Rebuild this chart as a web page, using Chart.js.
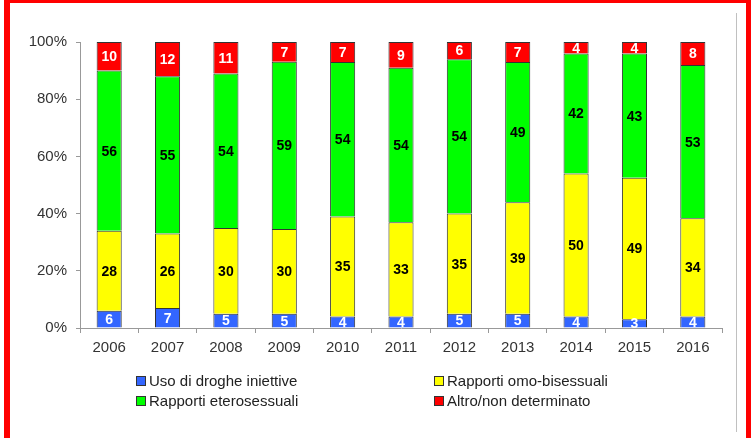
<!DOCTYPE html>
<html>
<head>
<meta charset="utf-8">
<script src="https://cdn.jsdelivr.net/npm/chart.js@4"></script>
<style>
  html, body { margin: 0; padding: 0; background: #fff; }
  #wrap { position: relative; width: 751px; height: 438px; overflow: hidden; font-family: "Liberation Sans", Arial, sans-serif; }
  #c { position: absolute; left: 0; top: 0; }
  .red { position: absolute; background: #ff0000; }
  #frame { position: absolute; left: 736px; top: 13px; width: 1px; height: 419px; background: #c0c0c0; }
  #legend { position: absolute; left: 0; top: 0; }
  .item { position: absolute; font-size: 15px; color: #222; white-space: nowrap; line-height: 17px; }
  .box { display: inline-block; width: 8px; height: 8px; border: 1px solid #333; margin-right: 3px; vertical-align: 0px; }
</style>
</head>
<body>
<div id="wrap">
  <canvas id="c" width="751" height="438"></canvas>
  <div class="red" style="left:4px;top:0;width:747px;height:3px"></div>
  <div class="red" style="left:4px;top:0;width:6px;height:438px"></div>
  <div class="red" style="left:746px;top:0;width:5px;height:438px"></div>
  <div id="frame"></div>
  <div id="legend"></div>
</div>
<script>
// values (percent, as printed on the bars)
const years = ['2006','2007','2008','2009','2010','2011','2012','2013','2014','2015','2016'];
const droghe = [6, 7, 5, 5, 4, 4, 5, 5, 4, 3, 4];
const omoBisex = [28, 26, 30, 30, 35, 33, 35, 39, 50, 49, 34];
const etero = [56, 55, 54, 59, 54, 54, 54, 49, 42, 43, 53];
const altro = [10, 12, 11, 7, 7, 9, 6, 7, 4, 4, 8];
const yTicks = [0, 20, 40, 60, 80, 100];

// bars are drawn as share of the yearly total so every column reaches 100%
const totals = years.map((y, i) => droghe[i] + omoBisex[i] + etero[i] + altro[i]);
const share = arr => arr.map((v, i) => v / totals[i] * 100);

const series = [
  { label: 'Uso di droghe iniettive', raw: droghe, color: '#3366ff', text: '#ffffff' },
  { label: 'Rapporti omo-bisessuali', raw: omoBisex, color: '#ffff00', text: '#000000' },
  { label: 'Rapporti eterosessuali', raw: etero, color: '#00ff00', text: '#000000' },
  { label: 'Altro/non determinato', raw: altro, color: '#ff0000', text: '#ffffff' }
];

// draws the number in the middle of each segment
const barLabels = {
  id: 'barLabels',
  afterDatasetsDraw(chart) {
    const ctx = chart.ctx;
    ctx.save();
    ctx.font = 'bold 14px "Liberation Sans", Arial, sans-serif';
    ctx.textAlign = 'center';
    ctx.textBaseline = 'middle';
    chart.data.datasets.forEach((ds, di) => {
      chart.getDatasetMeta(di).data.forEach((bar, i) => {
        const mid = (bar.y + bar.base) / 2;
        ctx.fillStyle = series[di].text;
        ctx.fillText(String(series[di].raw[i]), bar.x, mid + 1);
      });
    });
    ctx.restore();
  }
};

const tickFont = { size: 15, family: '"Liberation Sans", Arial, sans-serif' };

new Chart(document.getElementById('c'), {
  type: 'bar',
  data: {
    labels: years,
    datasets: series.map(s => ({
      label: s.label,
      data: share(s.raw),
      backgroundColor: s.color,
      borderColor: '#333333',
      borderWidth: 1,
      barPercentage: 0.86,
      categoryPercentage: 0.5
    }))
  },
  options: {
    responsive: false,
    animation: false,
    layout: { padding: { left: 0, right: 29, top: 42, bottom: 0 } },
    plugins: { legend: { display: false }, tooltip: { enabled: false } },
    scales: {
      x: {
        stacked: true,
        grid: { display: true, offset: true, drawOnChartArea: false, drawTicks: true, tickLength: 5, color: '#999999' },
        border: { color: '#999999', width: 1 },
        ticks: { color: '#333333', font: tickFont, padding: 6 },
        afterFit(scale) { scale.height = 110; }
      },
      y: {
        stacked: true,
        min: 0,
        max: 100,
        afterBuildTicks(scale) { scale.ticks = yTicks.map(v => ({ value: v })); },
        grid: { display: true, drawOnChartArea: false, drawTicks: true, tickLength: 4, color: '#999999' },
        border: { color: '#999999', width: 1 },
        ticks: { color: '#333333', font: tickFont, padding: 9, callback: v => v + '%' },
        afterFit(scale) { scale.width = 80; }
      }
    }
  },
  plugins: [barLabels]
});

// legend in two columns, as in the original
const legendPos = [[136, 372], [434, 372], [136, 392], [434, 392]];
const legend = document.getElementById('legend');
series.forEach((s, k) => {
  const el = document.createElement('div');
  el.className = 'item';
  el.style.left = legendPos[k][0] + 'px';
  el.style.top = legendPos[k][1] + 'px';
  el.innerHTML = '<span class="box" style="background:' + s.color + '"></span>' + s.label;
  legend.appendChild(el);
});
</script>
</body>
</html>
